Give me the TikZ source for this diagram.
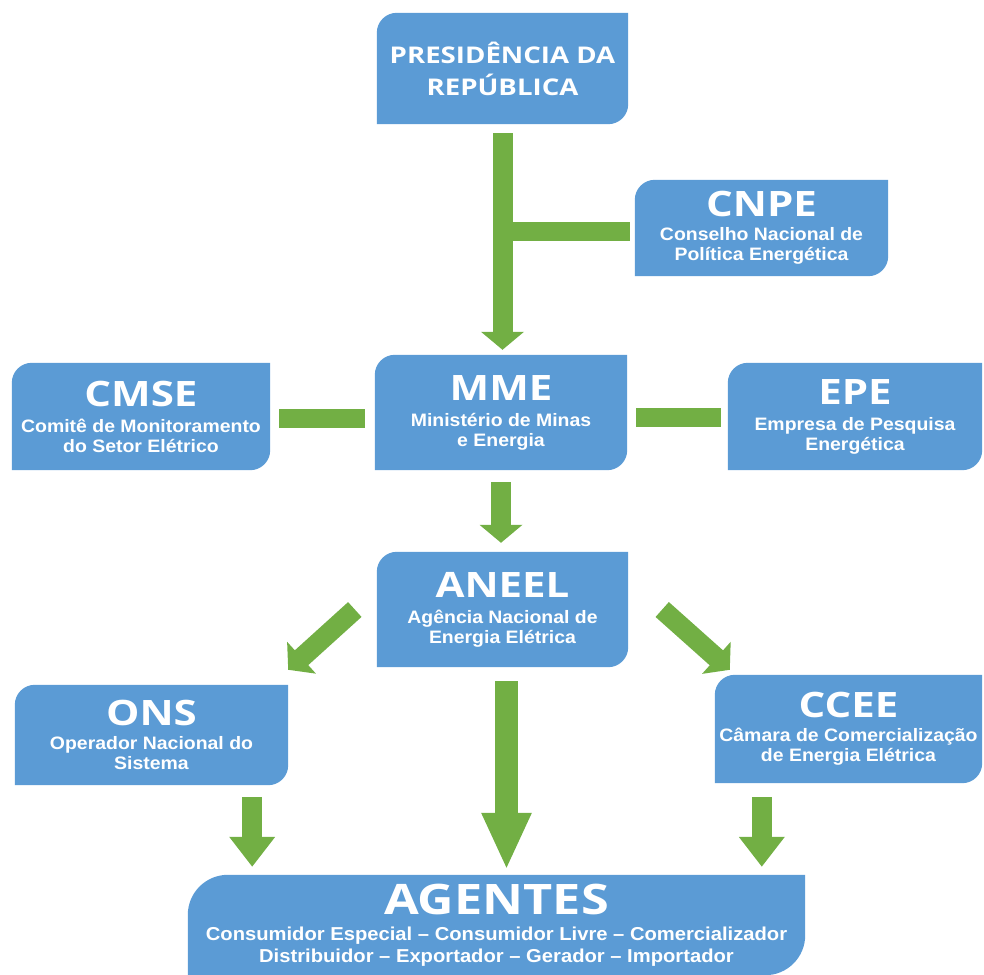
\documentclass[tikz,border=0pt]{standalone}
\usepackage{fontspec}
\setmainfont{Liberation Sans}
\newfontfamily\titlefont{Open Sans}[FakeStretch=1.2]
\newfontfamily\subfont{Liberation Sans}[FakeStretch=1.08]
\usetikzlibrary{arrows.meta,backgrounds}
\definecolor{boxblue}{RGB}{91,155,213}
\definecolor{leafgreen}{RGB}{114,175,68}
\newcommand{\boxtitle}[1]{{\titlefont\bfseries\fontsize{35}{35}\selectfont #1}}

\begin{document}
\begin{tikzpicture}[x=1pt,y=-1pt]
	\tikzstyle{Box}		= [inner sep=0pt, align=center, text=white, font=\subfont\bfseries\fontsize{18}{20}\selectfont]
	\tikzstyle{Bar}		= [draw=leafgreen, line width=20pt]
	\tikzstyle{Arrow}	= [Bar, -{Triangle[width=42pt,length=18pt]}]
	\tikzstyle{BigArrow}	= [Bar, line width=23pt, -{Triangle[width=46pt,length=57pt]}]

	\useasboundingbox (0,0) rectangle (984,974);

	\node (pres) at (502.5,68.5) [Box, minimum width=251pt, minimum height=111pt, font=\titlefont\bfseries\fontsize{23}{32}\selectfont] {PRESIDÊNCIA DA\\REPÚBLICA};
	\node (cnpe) at (761.5,228) [Box, minimum width=253pt, minimum height=96pt] {\boxtitle{CNPE}\\[4pt]Conselho Nacional de\\Política Energética};
	\node (cmse) at (141,416.5) [Box, minimum width=258pt, minimum height=107pt] {\boxtitle{CMSE}\\[6pt]Comitê de Monitoramento\\do Setor Elétrico};
	\node (mme) at (501,412.5) [Box, minimum width=252pt, minimum height=115pt] {\boxtitle{MME}\\[6pt]Ministério de Minas\\e Energia};
	\node (epe) at (855,416.5) [Box, minimum width=254pt, minimum height=107pt] {\boxtitle{EPE}\\[6pt]Empresa de Pesquisa\\Energética};
	\node (aneel) at (502.5,609.5) [Box, minimum width=251pt, minimum height=115pt] {\boxtitle{ANEEL}\\[6pt]Agência Nacional de\\Energia Elétrica};
	\node (ons) at (151.5,735) [Box, minimum width=273pt, minimum height=100pt] {\boxtitle{ONS}\\[4pt]Operador Nacional do\\Sistema};
	\node (ccee) at (848.5,729) [Box, minimum width=267pt, minimum height=108pt] {\boxtitle{CCEE}\\[4pt]Câmara de Comercialização\\de Energia Elétrica};
	\node (agentes) at (496.5,925) [Box, minimum width=617pt, minimum height=100pt, font=\subfont\bfseries\fontsize{18.7}{22}\selectfont] {{\titlefont\bfseries\fontsize{42}{42}\selectfont AGENTES}\\[4pt]Consumidor Especial – Consumidor Livre – Comercializador\\Distribuidor – Exportador – Gerador – Importador};

	% box shapes: top left and bottom right corners rounded
	\begin{scope}[on background layer]
		\foreach \n/\r in {pres/20pt, cnpe/20pt, cmse/20pt, mme/20pt, epe/20pt, aneel/20pt, ons/20pt, ccee/20pt, agentes/40pt}
			\fill [boxblue] (\n.south west) -- ([yshift=-\r]\n.north west) arc [start angle=180, end angle=90, radius=\r] -- (\n.north east) -- ([yshift=\r]\n.south east) arc [start angle=0, end angle=-90, radius=\r] -- cycle;
	\end{scope}

	\draw [Arrow, shorten <=9pt, shorten >=5pt] (pres.south) -- (pres.south |- mme.north);
	\draw [Bar, line width=19pt, shorten <=5pt] ([yshift=-3pt]cnpe.west) -- ([yshift=-3pt]cnpe.west -| pres.south);
	\draw [Bar, line width=19pt, shorten <=9pt, shorten >=10pt] ([yshift=-2pt]cmse.east) -- ([yshift=-2pt]cmse.east -| mme.west);
	\draw [Bar, line width=19pt, shorten <=9pt, shorten >=7pt] ([yshift=-1pt]epe.west -| mme.east) -- ([yshift=-1pt]epe.west);
	\draw [Arrow, shorten <=12pt, shorten >=9pt] (mme.south) -- (mme.south |- aneel.north);
	\draw [Arrow] ([xshift=-22pt]aneel.west) -- ([yshift=15pt]ons.north east);
	\draw [Arrow] ([xshift=34pt]aneel.east) -- ([xshift=15pt,yshift=5pt]ccee.north west);
	\draw [BigArrow, shorten <=14pt, shorten >=5pt] ([xshift=4pt]aneel.south) -- ([xshift=4pt]aneel.south |- agentes.north);
	\draw [Arrow, -{Triangle[width=44pt,length=30pt]}, shorten <=12pt, shorten >=8pt] ([xshift=-36pt]ons.south east) -- ([xshift=-36pt]ons.south east |- agentes.north);
	\draw [Arrow, -{Triangle[width=44pt,length=30pt]}, shorten <=14pt, shorten >=8pt] ([xshift=47pt]ccee.south west) -- ([xshift=47pt]ccee.south west |- agentes.north);
\end{tikzpicture}
\end{document}
